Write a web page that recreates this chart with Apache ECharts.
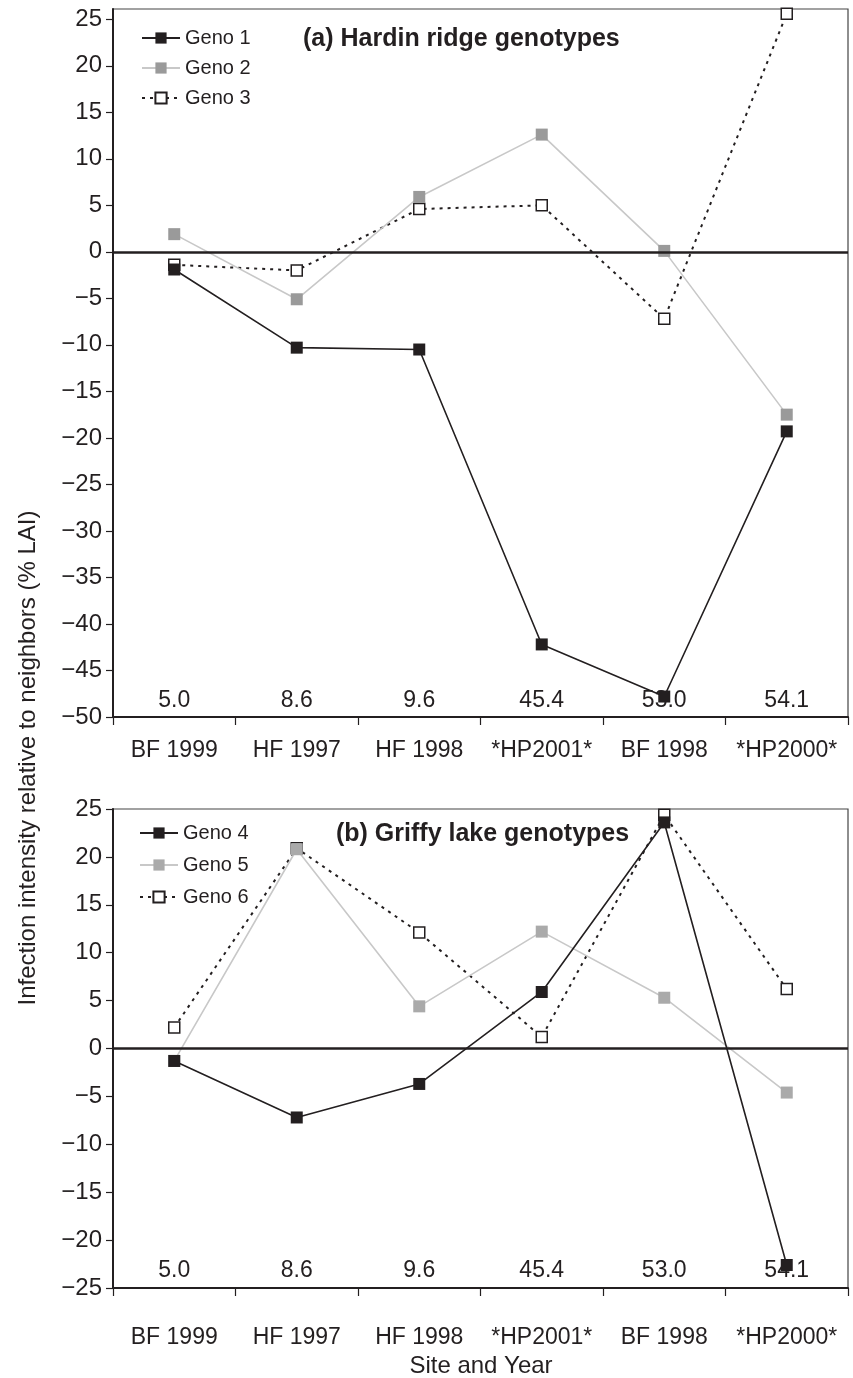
<!DOCTYPE html>
<html>
<head>
<meta charset="utf-8">
<script src="https://cdn.jsdelivr.net/npm/echarts@6/dist/echarts.min.js"></script>
<style>
html,body{margin:0;padding:0;background:#fff;}
#chart{width:853px;height:1378px;}
</style>
</head>
<body>
<div id="chart"></div>
<script>
const categories = ['BF 1999', 'HF 1997', 'HF 1998', '*HP2001*', 'BF 1998', '*HP2000*'];
const sizeLabels = ['5.0', '8.6', '9.6', '45.4', '53.0', '54.1'];
const geno1 = [-1.9, -10.3, -10.5, -42.2, -47.8, -19.3];
const geno2 = [1.9, -5.1, 5.9, 12.6, 0.1, -17.5];
const geno3 = [-1.4, -2.0, 4.6, 5.0, -7.2, 25.6];
const geno4 = [-1.3, -7.2, -3.7, 5.9, 23.6, -22.6];
const geno5 = [-1.3, 20.8, 4.4, 12.2, 5.3, -4.6];
const geno6 = [2.2, 20.9, 12.1, 1.2, 24.4, 6.2];
const yTicksA = [-50, -45, -40, -35, -30, -25, -20, -15, -10, -5, 0, 5, 10, 15, 20, 25];
const yTicksB = [-25, -20, -15, -10, -5, 0, 5, 10, 15, 20, 25];
const titleA = '(a) Hardin ridge genotypes';
const titleB = '(b) Griffy lake genotypes';
const yName = 'Infection intensity relative to neighbors (% LAI)';
const xName = 'Site and Year';

const INK = '#231f20';
const FONT = 'Liberation Sans, Arial, Helvetica, sans-serif';
const fmt = v => (v < 0 ? '\u2212' + Math.abs(v) : String(v));

function catAxis(gi, margin) {
  return {
    type: 'category', gridIndex: gi, data: categories, position: 'bottom',
    boundaryGap: true,
    axisLine: { onZero: false, lineStyle: { color: INK, width: 2 } },
    axisTick: { show: true, length: 8, alignWithLabel: false, lineStyle: { color: INK, width: 1.2 } },
    axisLabel: { color: INK, fontSize: 23, fontFamily: FONT, margin: margin, interval: 0 },
    splitLine: { show: false }
  };
}
function annAxis(gi, margin) {
  return {
    type: 'category', gridIndex: gi, data: sizeLabels, position: 'bottom',
    axisLine: { show: false, onZero: false }, axisTick: { show: false },
    axisLabel: { inside: true, color: INK, fontSize: 23, fontFamily: FONT, margin: margin, interval: 0 },
    splitLine: { show: false }
  };
}
function valAxis(gi, min, max, ticks) {
  return {
    type: 'value', gridIndex: gi, min: min, max: max,
    axisLine: { show: true, lineStyle: { color: INK, width: 2 } },
    axisTick: { show: true, length: 7, customValues: ticks, lineStyle: { color: INK, width: 1.2 } },
    axisLabel: { color: INK, fontSize: 24, fontFamily: FONT, margin: 11, customValues: ticks, formatter: fmt },
    splitLine: { show: false }
  };
}
const zeroLine = {
  silent: true, symbol: 'none', label: { show: false },
  lineStyle: { color: INK, width: 2.5, type: 'solid' },
  data: [{ yAxis: 0 }]
};
function solidSeries(name, data, xi, yi, lineColor, markColor, z) {
  return {
    name: name, type: 'line', data: data, xAxisIndex: xi, yAxisIndex: yi,
    symbol: 'rect', symbolSize: 12, z: z,
    lineStyle: { color: lineColor, width: 1.6 },
    itemStyle: { color: markColor, borderColor: markColor, borderWidth: 0 }
  };
}
function openSeries(name, data, xi, yi, z) {
  return {
    name: name, type: 'line', data: data, xAxisIndex: xi, yAxisIndex: yi,
    symbol: 'rect', symbolSize: 11, z: z,
    lineStyle: { color: INK, width: 2, type: [3, 5] },
    itemStyle: { color: '#ffffff', borderColor: INK, borderWidth: 1.5 }
  };
}

const s1 = solidSeries('Geno 1', geno1, 0, 0, INK, INK, 5);
s1.markLine = zeroLine;
const s4 = solidSeries('Geno 4', geno4, 2, 1, INK, INK, 4);
s4.markLine = zeroLine;

const legendText = { color: INK, fontSize: 20, fontFamily: FONT };

const option = {
  backgroundColor: '#ffffff',
  animation: false,
  title: [
    { text: titleA, left: 298, top: 22, textStyle: { color: INK, fontSize: 25, fontWeight: 'bold', fontFamily: FONT } },
    { text: titleB, left: 331, top: 817, textStyle: { color: INK, fontSize: 25, fontWeight: 'bold', fontFamily: FONT } }
  ],
  legend: [
    { data: ['Geno 1', 'Geno 2', 'Geno 3'], orient: 'vertical', left: 136, top: 23, itemWidth: 38, itemHeight: 14, itemGap: 10, textStyle: legendText },
    { data: ['Geno 4', 'Geno 5', 'Geno 6'], orient: 'vertical', left: 134, top: 818, itemWidth: 38, itemHeight: 14, itemGap: 12, textStyle: legendText }
  ],
  grid: [
    { left: 113, right: 5, top: 9, height: 708, show: true, borderColor: '#444', borderWidth: 1.2, backgroundColor: 'transparent' },
    { left: 113, right: 5, top: 809, height: 479, show: true, borderColor: '#444', borderWidth: 1.2, backgroundColor: 'transparent' }
  ],
  xAxis: [catAxis(0, 22), annAxis(0, 5), catAxis(1, 38), annAxis(1, 6)],
  yAxis: [valAxis(0, -50, 26.1, yTicksA), valAxis(1, -25, 25, yTicksB)],
  graphic: [
    { type: 'text', x: 28, y: 758, rotation: Math.PI / 2,
      style: { text: yName, fill: INK, fontSize: 24, fontFamily: FONT, align: 'center', verticalAlign: 'middle' } },
    { type: 'text', x: 481, y: 1366,
      style: { text: xName, fill: INK, fontSize: 24, fontFamily: FONT, align: 'center', verticalAlign: 'middle' } }
  ],
  series: [
    openSeries('Geno 3', geno3, 0, 0, 2),
    solidSeries('Geno 2', geno2, 0, 0, '#c8c8c8', '#9a9a9a', 3),
    s1,
    openSeries('Geno 6', geno6, 2, 1, 2),
    solidSeries('Geno 5', geno5, 2, 1, '#c8c8c8', '#aaaaaa', 3),
    s4
  ]
};

const chart = echarts.init(document.getElementById('chart'), null, { renderer: 'canvas' });
chart.setOption(option);
</script>
</body>
</html>
